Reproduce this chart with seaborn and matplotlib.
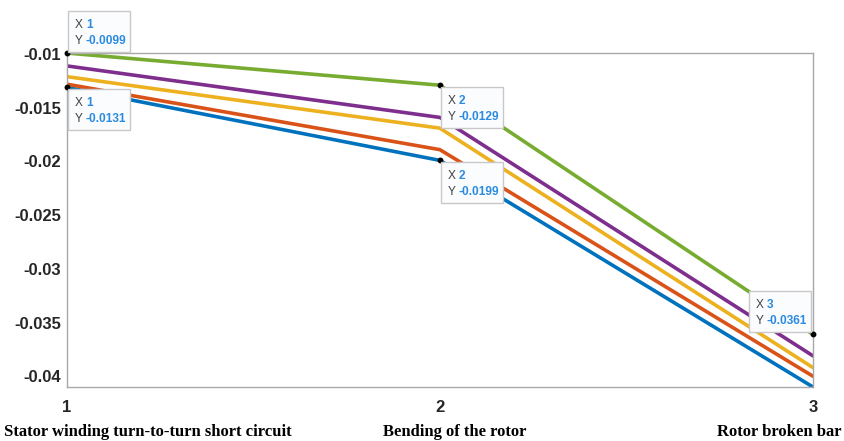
import numpy as np
import pandas as pd
import matplotlib
matplotlib.use("Agg")
import matplotlib.pyplot as plt
import seaborn as sns
from matplotlib.patches import Rectangle
from matplotlib.transforms import IdentityTransform

# ---- data ----
x_vals = [1, 2, 3]
blue = [-0.0131, -0.0199, -0.0410]
orange = [-0.0128, -0.0189, -0.0400]
yellow = [-0.0121, -0.0169, -0.0392]
purple = [-0.0111, -0.0159, -0.0381]
green = [-0.0099, -0.0129, -0.0361]
series_names = ["S1", "S2", "S3", "S4", "S5"]
series_vals = [blue, orange, yellow, purple, green]
colors = ["#0072BD", "#D95319", "#EDB120", "#7E2F8E", "#77AC30"]
categories = ["Stator winding turn-to-turn short circuit", "Bending of the rotor", "Rotor broken bar"]
y_ticks = [-0.04, -0.035, -0.03, -0.025, -0.02, -0.015, -0.01]
y_tick_labels = ["-0.04", "-0.035", "-0.03", "-0.025", "-0.02", "-0.015", "-0.01"]
# data tips: (x, y, placement)
tip_x = [1, 1, 2, 2, 3]
tip_y = [-0.0099, -0.0131, -0.0129, -0.0199, -0.0361]
tip_place = ["above-right", "below-right", "below-right", "below-right", "above-left"]

rows = []
for name, vals in zip(series_names, series_vals):
    for xv, yv in zip(x_vals, vals):
        rows.append({"x": xv, "y": yv, "series": name})
df = pd.DataFrame(rows)

sns.set_style("white")
plt.rcParams["font.family"] = ["Liberation Sans", "DejaVu Sans"]

W, H, DPI = 845, 441, 100
fig = plt.figure(figsize=(W / DPI, H / DPI), dpi=DPI)
ax = fig.add_axes([66.7 / W, 1 - 387 / H, (813 - 66.7) / W, (387 - 53) / H])

sns.lineplot(data=df, x="x", y="y", hue="series", palette=colors, linewidth=2.6,
             legend=False, ax=ax, sort=False)

ax.set_xlim(1, 3)
ax.set_ylim(-0.041, -0.0099)
ax.set_xticks(x_vals)
ax.set_xticklabels([str(v) for v in x_vals], fontsize=12, fontweight="bold", color="#262626")
ax.set_yticks(y_ticks)
ax.set_yticklabels(y_tick_labels, fontsize=12, fontweight="bold", color="#262626")
ax.set_xlabel("")
ax.set_ylabel("")
ax.tick_params(axis="both", direction="in", length=5, width=0.8, color="#a0a0a0")
ax.tick_params(axis="x", pad=9)
ax.tick_params(axis="y", pad=4)
for sp in ax.spines.values():
    sp.set_visible(True)
    sp.set_color("#a8a8a8")
    sp.set_linewidth(1.0)

# category labels below the axis
cat_centers_px = [148, 455, 779]
for c, cx in zip(categories, cat_centers_px):
    fig.text(cx / W, 1 - 432 / H, c, ha="center", va="center", fontsize=12,
             fontweight="bold", family=["Liberation Serif", "DejaVu Serif"], color="black")

# data tip markers
ax.plot(tip_x, tip_y, "o", ms=3.2, color="black", clip_on=False, zorder=5)

# data tip boxes (in display pixels)
bw, bh = 62, 41
tr = IdentityTransform()
for tx, ty, pl in zip(tip_x, tip_y, tip_place):
    px, py = ax.transData.transform((tx, ty))
    if pl == "above-right":
        left, bottom = px + 1, py + 1
    elif pl == "below-right":
        left, bottom = px + 1, py - 2 - bh
    else:
        left, bottom = px - 1 - bw - 1, py + 2
    rect = Rectangle((left, bottom), bw, bh, transform=tr, facecolor="#fbfcfe",
                     edgecolor="#c8c8c8", linewidth=1.0, zorder=6, clip_on=False)
    fig.add_artist(rect)
    top = bottom + bh
    tx_left = left + 7
    for dy, lab, val in [(13.5, "X", f"{tx:g}"), (29.5, "Y", f"{ty:.4f}")]:
        t1 = fig.text(tx_left, top - dy, lab + " ", transform=tr, ha="left", va="center",
                      fontsize=8.6, color="#404040", zorder=7)
        fig.canvas.draw()
        bb = t1.get_window_extent()
        fig.text(bb.x1, top - dy, val, transform=tr, ha="left", va="center",
                 fontsize=8.6, fontweight="bold", color="#2b8be0", zorder=7)

fig.savefig("out.png", dpi=DPI)
